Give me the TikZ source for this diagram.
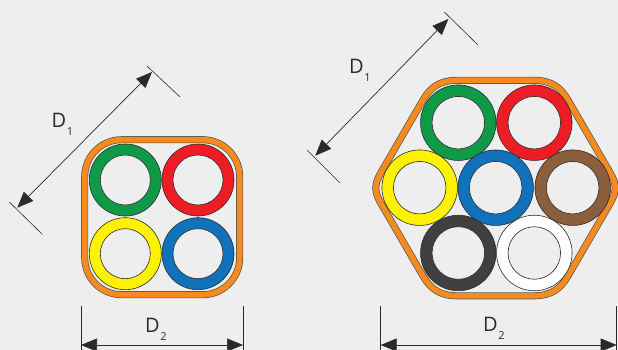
\documentclass[tikz,border=0pt]{standalone}
\usepackage{fontspec}
\setmainfont{Open Sans}
\usetikzlibrary{arrows.meta}
\definecolor{bgc}{HTML}{EEEEEE}
\definecolor{cgreen}{HTML}{0F9A48}
\definecolor{cred}{HTML}{EE1C25}
\definecolor{cyellow}{HTML}{FFF200}
\definecolor{cblue}{HTML}{0F72BA}
\definecolor{cbrown}{HTML}{8B5E3C}
\definecolor{cdark}{HTML}{404040}
\definecolor{corange}{HTML}{F58A1F}
\definecolor{ink}{HTML}{2B2A29}
\newcommand{\dimlabel}[1]{\fontsize{20}{20}\selectfont D\kern0.6pt\raisebox{-0.4em}{\fontsize{11}{11}\selectfont #1}}
\tikzset{
  ringA/.style={circle,draw=ink,line width=0.6pt,inner sep=0pt,minimum size=72pt,fill=#1},
  holeA/.style={circle,draw=ink,line width=0.6pt,inner sep=0pt,minimum size=50pt,fill=bgc},
  ringB/.style={circle,draw=ink,line width=0.6pt,inner sep=0pt,minimum size=75.5pt,fill=#1},
  holeB/.style={circle,draw=ink,line width=0.6pt,inner sep=0pt,minimum size=52.5pt,fill=bgc},
  jacket/.style={draw=ink!80,line width=0.7pt,double=corange,double distance=5.6pt},
  tick/.style={draw=ink,line width=0.6pt},
  dimline/.style={draw=ink,line width=0.7pt,{Triangle[length=16pt,width=13pt]}-{Triangle[length=16pt,width=13pt]}},
  dimtext/.style={anchor=base west,inner sep=0pt,text=ink}
}
\begin{document}
\begin{tikzpicture}[x=1pt,y=-1pt]
\path[fill=bgc] (0,0) rectangle (618,350);
\useasboundingbox (0,0) rectangle (618,350);
% left cable
\draw[jacket,rounded corners=37pt] (84.7,139.7) rectangle (239.7,294.7);
\foreach \n/\c/\x/\y in {ag/cgreen/125.3/180,ar/cred/198/180,ay/cyellow/125.3/253.7,ab/cblue/198/253.7}{
  \node[ringA=\c] (\n) at (\x,\y) {};
  \node[holeA] (\n h) at (\n) {};
}
% right cable
\draw[jacket] (457,80.3) -- (534,80.3)
  .. controls (552,80.3) and (561,88) .. (568,100) -- (605.7,165)
  .. controls (611,174) and (615.3,181) .. (615.3,188)
  .. controls (615.3,195) and (611,202) .. (605.7,211) -- (568,276)
  .. controls (561,288) and (552,295.8) .. (534,295.8) -- (457,295.8)
  .. controls (439,295.8) and (430,288) .. (423,276) -- (385.3,211)
  .. controls (380,202) and (375.7,195) .. (375.7,188)
  .. controls (375.7,181) and (380,174) .. (385.3,165) -- (423,100)
  .. controls (430,88) and (439,80.3) .. (457,80.3) -- cycle;
\foreach \n/\c/\x/\y in {bg/cgreen/458.3/122.7,br/cred/534.3/122.7,by/cyellow/419.7/187.7,bb/cblue/495.7/187.7,bn/cbrown/572.7/187.7,bk/cdark/458.3/253,bw/white/534.3/253}{
  \node[ringB=\c] (\n) at (\x,\y) {};
  \node[holeB] (\n h) at (\n) {};
}
% left D1
\coordinate (l1a) at (147,66);
\coordinate (l1b) at (180,97);
\coordinate (l1c) at (9.3,202);
\coordinate (l1d) at (42.3,234.3);
\coordinate (l1s) at (17.3,207.7);
\coordinate (l1e) at (152,72);
\draw[tick] (l1a) -- (l1b);
\draw[tick] (l1c) -- (l1d);
\draw[dimline] (l1s) -- (l1e);
\node[dimtext] (l1t) at (51.5,128) {\dimlabel{1}};
% right D1
\coordinate (r1a) at (444.3,12);
\coordinate (r1b) at (478,45);
\coordinate (r1c) at (307,150);
\coordinate (r1d) at (339.7,182.7);
\coordinate (r1s) at (315.3,155.7);
\coordinate (r1e) at (448.3,19);
\draw[tick] (r1a) -- (r1b);
\draw[tick] (r1c) -- (r1d);
\draw[dimline] (r1s) -- (r1e);
\node[dimtext] (r1t) at (349,73.3) {\dimlabel{1}};
% left D2
\coordinate (l2a) at (81,306);
\coordinate (l2b) at (81,350);
\coordinate (l2c) at (243,306);
\coordinate (l2d) at (243,350);
\coordinate (l2s) at (81,345);
\coordinate (l2e) at (243,345);
\draw[tick] (l2a) -- (l2b);
\draw[tick] (l2c) -- (l2d);
\draw[dimline] (l2s) -- (l2e);
\node[dimtext] (l2t) at (145,332.3) {\dimlabel{2}};
% right D2
\coordinate (r2a) at (380.7,306);
\coordinate (r2b) at (380.7,350);
\coordinate (r2c) at (616.7,306);
\coordinate (r2d) at (616.7,350);
\coordinate (r2s) at (380.7,345);
\coordinate (r2e) at (616.7,345);
\draw[tick] (r2a) -- (r2b);
\draw[tick] (r2c) -- (r2d);
\draw[dimline] (r2s) -- (r2e);
\node[dimtext] (r2t) at (483,331.7) {\dimlabel{2}};
\end{tikzpicture}
\end{document}
